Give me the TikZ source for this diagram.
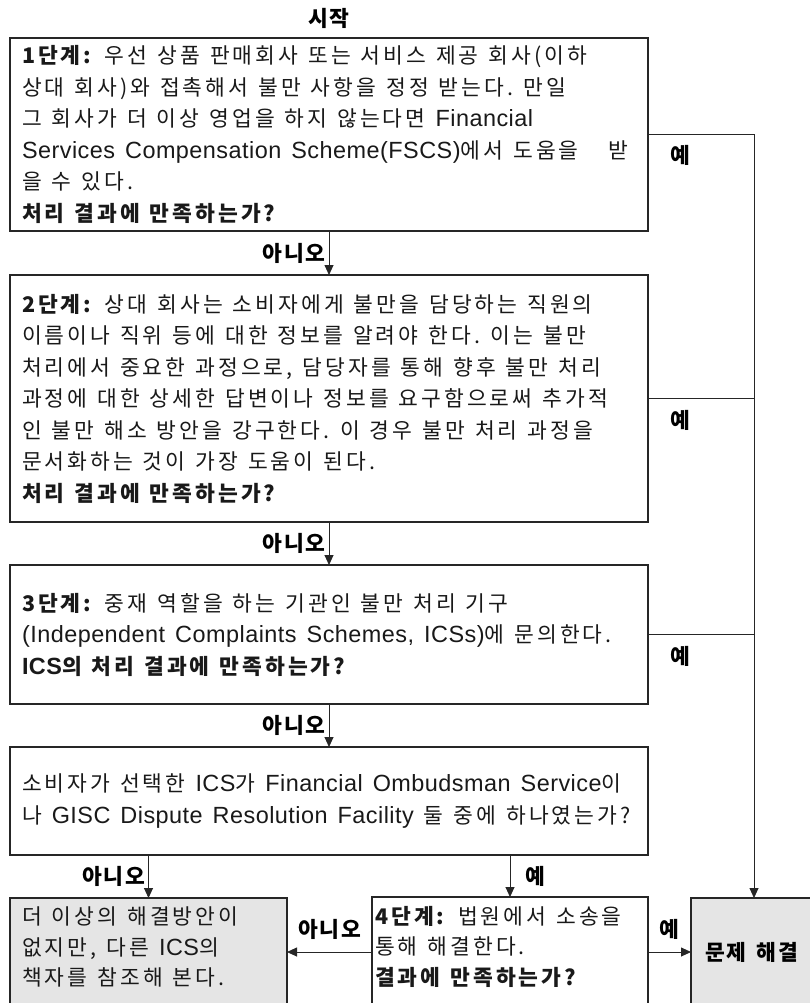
\documentclass[tikz,border=0pt]{standalone}
\usepackage{fontspec}
\setmainfont{Noto Sans CJK KR}[LetterSpace=14, WordSpace=2.4]
\newfontfamily\labelfont{Noto Sans CJK KR}[LetterSpace=8, WordSpace=2]
\newfontfamily\latfont{Liberation Sans}[Scale=1.09, LetterSpace=2]
\newcommand\lat[1]{{\latfont #1}}
\usetikzlibrary{arrows.meta}
\begin{document}
\begin{tikzpicture}[x=1pt,y=-1pt,
  every node/.style={font=\fontsize{21.5}{31.5}\selectfont, text=black!90},
  wordgap/.style={execute at begin node={\spaceskip=10pt plus 2pt minus 1pt\relax}},
  box/.style={draw=black!85, line width=1.1pt, anchor=north west,
    inner xsep=12pt, inner ysep=0pt, outer sep=0pt, align=left, wordgap},
  grey/.style={fill=black!10},
  txt/.style={inner sep=0pt, align=left, anchor=north west, wordgap,
    font=\fontsize{21.5}{30.5}\selectfont},
  lbl/.style={font=\labelfont\fontsize{21.5}{26}\selectfont\bfseries, text=black, inner sep=3pt},
  conn/.style={draw=black!85, line width=0.9pt},
  arr/.style={conn, -{Triangle[length=10pt,width=9pt]}},
]
\useasboundingbox (0,0) rectangle (810,1003);
\fill[white] (0,0) rectangle (810,1003);

% column where all "yes" branches run down
\coordinate (yx) at (754,0);

\node[lbl] (start) at (329,18) {시작};

\node[box, text width=614pt, minimum width=638pt, minimum height=193pt] (s1) at (10,38)
{\textbf{1단계:} 우선 상품 판매회사 또는 서비스 제공 회사(이하\\
상대 회사)와 접촉해서 불만 사항을 정정 받는다. 만일\\
그 회사가 더 이상 영업을 하지 않는다면 \lat{Financial}\\
\lat{Services Compensation Scheme(FSCS)}에서 도움을\ \ \ 받\\
을 수 있다.\\
\textbf{처리 결과에 만족하는가?}};

\node[box, text width=614pt, minimum width=638pt, minimum height=247pt] (s2) at (10,275)
{\textbf{2단계:} 상대 회사는 소비자에게 불만을 담당하는 직원의\\
이름이나 직위 등에 대한 정보를 알려야 한다. 이는 불만\\
처리에서 중요한 과정으로, 담당자를 통해 향후 불만 처리\\
과정에 대한 상세한 답변이나 정보를 요구함으로써 추가적\\
인 불만 해소 방안을 강구한다. 이 경우 불만 처리 과정을\\
문서화하는 것이 가장 도움이 된다.\\
\textbf{처리 결과에 만족하는가?}};

\node[box, text width=614pt, minimum width=638pt, minimum height=139pt] (s3) at (10,565)
{\textbf{3단계:} 중재 역할을 하는 기관인 불만 처리 기구\\
\lat{(Independent Complaints Schemes, ICSs)}에 문의한다.\\
\textbf{\lat{ICS}의 처리 결과에 만족하는가?}};

\node[box, text width=614pt, minimum width=638pt, minimum height=108pt] (q) at (10,747)
{소비자가 선택한 \lat{ICS}가 \lat{Financial Ombudsman Service}이\\
나 \lat{GISC Dispute Resolution Facility} 둘 중에 하나였는가?};

% bottom row (boxes run past the lower edge)
\node[box, grey, minimum width=277pt, minimum height=108pt] (left) at (10,898) {};
\node[txt, text width=260pt] (lefttext) at ([xshift=12pt,yshift=-9pt]left.north west)
{더 이상의 해결방안이\\ 없지만, 다른 \lat{ICS}의\\ 책자를 참조해 본다.};

\node[box, minimum width=276pt, minimum height=110pt] (s4) at (372,897) {};
\node[txt, text width=272pt] (s4text) at ([xshift=3pt,yshift=-9pt]s4.north west)
{\textbf{4단계:} 법원에서 소송을\\ 통해 해결한다.\\ \textbf{결과에 만족하는가?}};

\node[box, grey, minimum width=121pt, minimum height=108pt, font=\labelfont\fontsize{21.5}{26}\selectfont\bfseries, text=black] (done) at (691,898) {문제 해결};

% "no" path down the middle
\draw[arr] (s1.south) -- node[lbl, left] (n1) {아니오} (s2.north);
\draw[arr] (s2.south) -- node[lbl, left] (n2) {아니오} (s3.north);
\draw[arr] (s3.south) -- node[lbl, left] (n3) {아니오} (q.north);

% "yes" branches on the right
\draw[arr] (s1.east) -| (yx |- done.north);
\draw[conn] (s2.east) -- (s2.east -| yx);
\draw[conn] (s3.east) -- (s3.east -| yx);
\node[lbl] (y1) at ([xshift=32pt,yshift=-21pt]s1.east) {예};
\node[lbl] (y2) at ([xshift=32pt,yshift=-22pt]s2.east) {예};
\node[lbl] (y3) at ([xshift=32pt,yshift=-22pt]s3.east) {예};

% ICS question
\draw[arr] (left.north |- q.south) -- node[lbl, left] (n4) {아니오} (left.north);
\draw[arr] (s4.north |- q.south) -- node[lbl, right, xshift=12pt] (y4) {예} (s4.north);

% court step
\draw[arr] (s4.west) -- node[lbl, above, yshift=9pt] (n5) {아니오} (left.east);
\draw[arr] (s4.east) -- node[lbl, above, yshift=9pt] (y5) {예} (done.west);
\end{tikzpicture}
\end{document}
